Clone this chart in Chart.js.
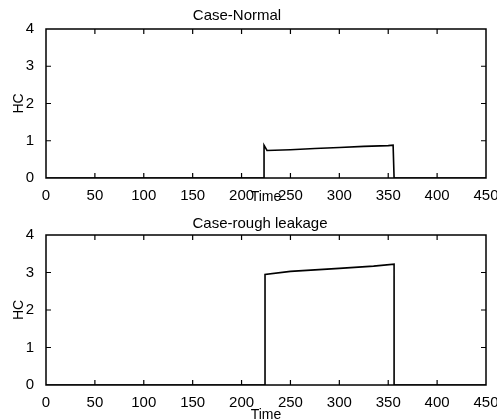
<!DOCTYPE html>
<html>
<head>
<meta charset="utf-8">
<script src="https://cdn.jsdelivr.net/npm/chart.js@4.4.1/dist/chart.umd.min.js"></script>
<style>
  body { margin: 0; background: #fff; }
  .panel { position: absolute; left: 0; width: 497px; height: 210px; }
</style>
</head>
<body>
<div class="panel" style="top:0"><canvas id="normalChart" width="497" height="210"></canvas></div>
<div class="panel" style="top:210px"><canvas id="leakChart" width="497" height="210"></canvas></div>
<script>
// data
const xTicks = [0, 50, 100, 150, 200, 250, 300, 350, 400, 450];
const yTicks = [0, 1, 2, 3, 4];

const normalTitle = 'Case-Normal';
const normalTime = [0, 223, 223, 226, 250, 275, 300, 325, 350, 355, 356, 450];
const normalHC = [0, 0, 0.88, 0.74, 0.76, 0.79, 0.82, 0.85, 0.87, 0.88, 0, 0];

const leakTitle = 'Case-rough leakage';
const leakTime = [0, 224, 224, 250, 300, 335, 356, 356, 450];
const leakHC = [0, 0, 2.95, 3.03, 3.11, 3.17, 3.22, 0, 0];

const FONT = "'Liberation Sans', Arial, sans-serif";

// box round the plot with inward ticks on all four sides, plus the panel title
const boxTicks = {
    id: 'boxTicks',
    afterDatasetsDraw(chart, args, opts) {
        const { ctx, chartArea: a, scales: { x, y } } = chart;
        ctx.save();
        ctx.strokeStyle = '#000';
        ctx.lineWidth = 1.5;
        ctx.strokeRect(a.left, a.top, a.right - a.left, a.bottom - a.top);
        ctx.lineWidth = 1.2;
        ctx.beginPath();
        x.ticks.forEach(t => {
            if (t.value <= x.min || t.value >= x.max) return;
            const px = x.getPixelForValue(t.value);
            ctx.moveTo(px, a.bottom); ctx.lineTo(px, a.bottom - 5);
            ctx.moveTo(px, a.top); ctx.lineTo(px, a.top + 5);
        });
        y.ticks.forEach(t => {
            if (t.value <= y.min || t.value >= y.max) return;
            const py = y.getPixelForValue(t.value);
            ctx.moveTo(a.left, py); ctx.lineTo(a.left + 5, py);
            ctx.moveTo(a.right, py); ctx.lineTo(a.right - 5, py);
        });
        ctx.stroke();
        ctx.fillStyle = '#000';
        ctx.font = '15px ' + FONT;
        ctx.textAlign = 'center';
        ctx.textBaseline = 'middle';
        ctx.fillText(opts.text, opts.x, opts.y);
        ctx.restore();
    }
};

function makeConfig(times, values, title, layout) {
    return {
        type: 'line',
        data: {
            datasets: [{
                data: times.map((t, i) => ({ x: t, y: values[i] })),
                borderColor: '#000',
                borderWidth: 1.6,
                pointRadius: 0,
                tension: 0,
                fill: false
            }]
        },
        options: {
            responsive: false,
            animation: false,
            layout: { padding: { top: layout.top, right: 11, left: 0, bottom: 0 } },
            plugins: {
                legend: { display: false },
                tooltip: { enabled: false },
                boxTicks: { text: title, x: layout.titleX, y: layout.titleY }
            },
            scales: {
                x: {
                    type: 'linear',
                    min: 0,
                    max: 450,
                    afterBuildTicks: (scale) => { scale.ticks = xTicks.map(v => ({ value: v })); },
                    afterFit: (scale) => {
                        scale.height = layout.xHeight;
                        scale.paddingLeft = 0;
                        scale.paddingRight = 0;
                    },
                    grid: { display: false },
                    border: { display: false },
                    ticks: {
                        color: '#000',
                        padding: 1,
                        maxRotation: 0,
                        autoSkip: false,
                        font: { family: FONT, size: 15, lineHeight: 1.2 }
                    },
                    title: {
                        display: true,
                        text: 'Time',
                        color: '#000',
                        font: { family: FONT, size: 14, lineHeight: 1 },
                        padding: { top: 0, bottom: layout.timePad }
                    }
                },
                y: {
                    type: 'linear',
                    min: 0,
                    max: 4,
                    afterBuildTicks: (scale) => { scale.ticks = yTicks.map(v => ({ value: v })); },
                    afterFit: (scale) => {
                        scale.width = 46;
                        scale.paddingTop = 0;
                        scale.paddingBottom = 0;
                    },
                    grid: { display: false },
                    border: { display: false },
                    ticks: {
                        color: '#000',
                        padding: 4,
                        font: { family: FONT, size: 15, lineHeight: 1.2 }
                    },
                    title: {
                        display: true,
                        text: 'HC',
                        color: '#000',
                        font: { family: FONT, size: 14, lineHeight: 1 },
                        padding: { top: 12.5, bottom: 0 }
                    }
                }
            }
        },
        plugins: [boxTicks]
    };
}

new Chart(
    document.getElementById('normalChart'),
    makeConfig(normalTime, normalHC, normalTitle, { top: 29, xHeight: 32, timePad: 6, titleX: 237, titleY: 16 })
);

new Chart(
    document.getElementById('leakChart'),
    makeConfig(leakTime, leakHC, leakTitle, { top: 25, xHeight: 35, timePad: -2.5, titleX: 260, titleY: 14 })
);
</script>
</body>
</html>
